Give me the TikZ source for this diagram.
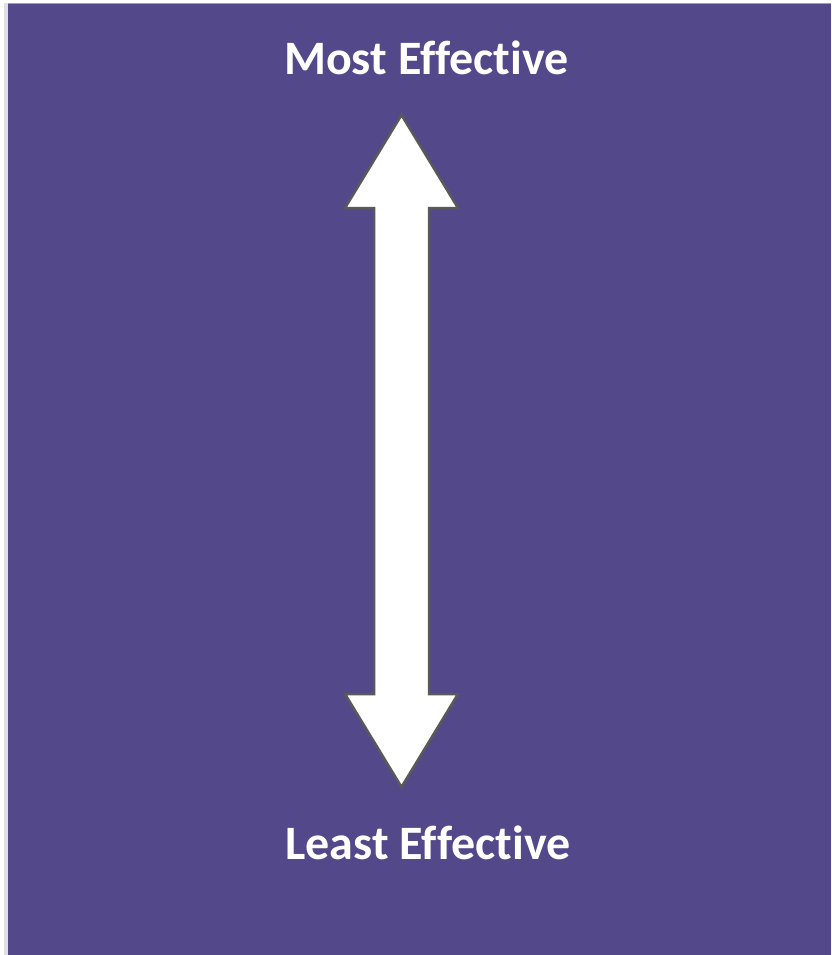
\documentclass[tikz,border=0pt]{standalone}
\usepackage{fontspec}
\setmainfont[Ligatures=NoCommon]{Carlito}
\usetikzlibrary{shapes.geometric, arrows}
\definecolor{slidepurple}{RGB}{82,72,138}
\definecolor{arrowline}{RGB}{89,89,89}
\tikzset{label text/.style={text=white, font=\bfseries\fontsize{48}{52}\selectfont, anchor=base, inner sep=0pt}}

\begin{document}
\begin{tikzpicture}[x=1pt,y=-1pt]
	\useasboundingbox (0,0) rectangle (831,955);
	\fill[color=white] (0,0) rectangle (831,955);
	\fill[color=black!12] (4,3) rectangle (8,955);
	\fill[color=slidepurple] (8,3) rectangle (831,955);
	\draw[color=slidepurple!55!white, line width=1.5pt] (8,3.5) -- (831,3.5);
	% double headed block arrow
	\filldraw[fill=white, draw=arrowline, line width=2.5pt] (401.5,115) -- (458,208) -- (429,208) -- (429,694) -- (458,694) -- (401.5,787) -- (345,694) -- (374,694) -- (374,208) -- (345,208) -- cycle;
	\node[label text] (most) at (426.5,75) {Most Effective};
	\node[label text] (least) at (428,859) {Least Effective};
\end{tikzpicture}
\end{document}
